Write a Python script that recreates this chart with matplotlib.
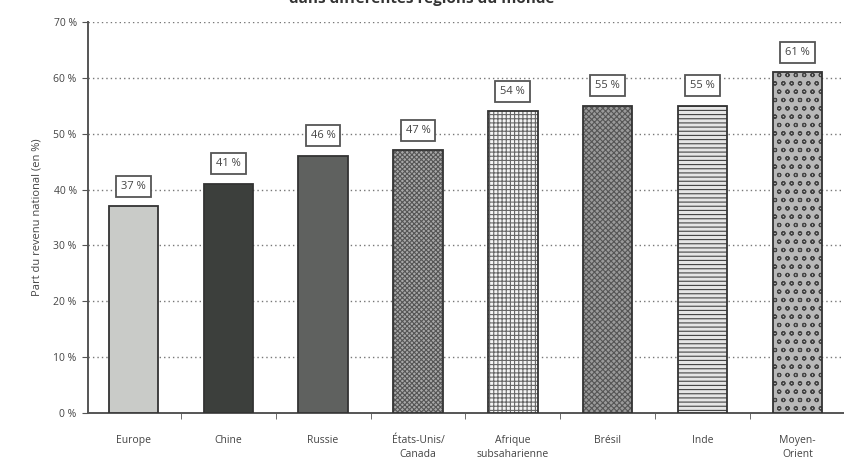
import numpy as np
import matplotlib
matplotlib.use("Agg")
import matplotlib.pyplot as plt

regions = ["Europe", "Chine", "Russie", "États-Unis/\nCanada", "Afrique\nsubsaharienne",
           "Brésil", "Inde", "Moyen-\nOrient"]
shares = [37, 41, 46, 47, 54, 55, 55, 61]
labels = ["37 %", "41 %", "46 %", "47 %", "54 %", "55 %", "55 %", "61 %"]
yticks = [0, 10, 20, 30, 40, 50, 60, 70]

faces = ["#c9cbc8", "#3c3f3c", "#5f615f", "#a8a8a8", "#f4f4f4", "#9a9a9a", "#e6e6e6", "#b8b8b8"]
hatches = [None, None, None, "xxxxxxx", "++++", "xxxxxx", "----", "oo"]
hatch_cols = [None, None, None, "#555555", "#666666", "#555555", "#444444", "#444444"]

plt.rcParams["font.family"] = ["Open Sans", "DejaVu Sans"]
plt.rcParams["hatch.linewidth"] = 0.8

fig = plt.figure(figsize=(8.44, 4.63), dpi=100)
ax = fig.add_axes([0.104, 0.108, 0.896, 0.8445])

x = np.arange(len(regions))
for i in range(len(regions)):
    b = ax.bar(x[i], shares[i], width=0.52, color=faces[i], edgecolor="#333333",
               linewidth=1.3, zorder=3)
    if hatches[i]:
        b[0].set_hatch(hatches[i])
        b[0]._hatch_color = matplotlib.colors.to_rgba(hatch_cols[i])
    ax.text(x[i], shares[i] + 3.6, labels[i], ha="center", va="center", fontsize=8,
            color="#444444", zorder=4,
            bbox=dict(boxstyle="square,pad=0.45", fc="white", ec="#555555", lw=1.3))

ax.set_xlim(-0.48, 7.49)
ax.set_ylim(0, 70)
ax.set_yticks(yticks)
ax.set_yticklabels([f"{v} %" for v in yticks], fontsize=7.5, color="#444444")
ax.set_xticks(x)
ax.set_xticklabels(regions, fontsize=7.5, color="#444444", linespacing=1.4)
ax.set_xticks(x[:-1] + 0.5, minor=True)
ax.tick_params(axis="x", which="major", length=0, pad=16)
ax.tick_params(axis="x", which="minor", length=4, color="#555555", direction="out")
ax.tick_params(axis="y", length=4, color="#555555", direction="out", pad=4)
ax.yaxis.grid(True, linestyle=(0, (1.0, 2.2)), color="#777777", linewidth=1.0, zorder=0)
ax.set_axisbelow(True)
for s in ["top", "right"]:
    ax.spines[s].set_visible(False)
for s in ["left", "bottom"]:
    ax.spines[s].set_color("#555555")
    ax.spines[s].set_linewidth(1.4)

ax.set_ylabel("Part du revenu national (en %)", fontsize=8, color="#444444", labelpad=8)

fig.text(0.5, 1.003, "dans différentes régions du monde", ha="center", va="center",
         fontsize=11, fontweight="bold", color="#333333")

fig.savefig("out.png", dpi=100)
